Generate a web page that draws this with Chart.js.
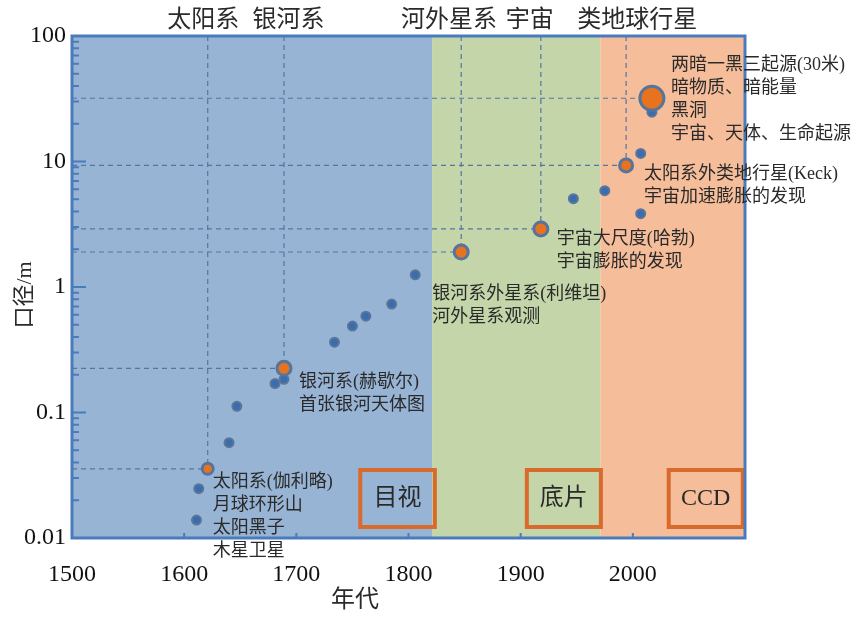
<!DOCTYPE html>
<html lang="zh">
<head>
<meta charset="UTF-8">
<title>望远镜口径与年代</title>
<script src="https://cdn.jsdelivr.net/npm/chart.js@4.4.1/dist/chart.umd.min.js"></script>
<style>
  body { margin: 0; background: #fff; }
</style>
</head>
<body>
<canvas id="myChart" width="864" height="620"></canvas>
<script>
// 普通望远镜 (蓝点)
const blueYears = [1611, 1613, 1640, 1647, 1681, 1689, 1734, 1750, 1762, 1785, 1806, 1947, 1975, 2007, 2007, 2017];
const blueDiam = [0.0139, 0.0247, 0.0575, 0.112, 0.17, 0.184, 0.363, 0.488, 0.586, 0.731, 1.25, 5.06, 5.86, 3.84, 11.6, 24.7];

// 里程碑望远镜 (橙点)
const milestoneYears = [1621, 1689, 1847, 1918, 1994, 2017];
const milestoneDiam = [0.0356, 0.225, 1.9, 2.9, 9.3, 31.9];
const milestoneNotes = [
    ['太阳系(伽利略)', '月球环形山', '太阳黑子', '木星卫星'],
    ['银河系(赫歇尔)', '首张银河天体图'],
    ['银河系外星系(利维坦)', '河外星系观测'],
    ['宇宙大尺度(哈勃)', '宇宙膨胀的发现'],
    ['太阳系外类地行星(Keck)', '宇宙加速膨胀的发现'],
    ['两暗一黑三起源(30米)', '暗物质、暗能量', '黑洞', '宇宙、天体、生命起源']
];

// 观测时代
const eraNames = ['目视', '底片', 'CCD'];
const eraStart = [1500, 1821, 1971];
const eraEnd = [1821, 1971, 2100];

// 顶部标题
const topLabels = ['太阳系', '银河系', '河外星系', '宇宙', '类地球行星'];
const topLabelYears = [1617, 1693, 1836, 1908, 2004];

const xTickValues = [1500, 1600, 1700, 1800, 1900, 2000];
const yTickValues = [0.01, 0.1, 1, 10, 100];
const yTickLabels = ['0.01', '0.1', '1', '10', '100'];

// 样式
const eraColors = ['#98b4d5', '#c3d5a9', '#f5bd9a'];
const frameBlue = '#4a7bbd';
const FONT = '"Liberation Serif", "Noto Sans CJK SC", serif';
const noteOffsets = [[5, 13], [15, 14], [-29, 42], [16, 10], [18, 9], [19, -33]];
const eraBoxYears = [[1757, 1823.5], [1905.5, 1971.5], [2032, 2098]];

const decor = {
    id: 'decor',
    beforeDatasetsDraw(chart) {
        const {ctx, chartArea: a, scales: {x, y}} = chart;
        ctx.save();
        for (let i = 0; i < eraStart.length; i++) {
            const x0 = x.getPixelForValue(eraStart[i]);
            const x1 = x.getPixelForValue(eraEnd[i]);
            ctx.fillStyle = eraColors[i];
            ctx.fillRect(x0, a.top, x1 - x0, a.bottom - a.top);
        }
        ctx.setLineDash([5, 4]);
        ctx.strokeStyle = '#5575a3';
        ctx.lineWidth = 1.2;
        milestoneYears.forEach((yr, i) => {
            const px = x.getPixelForValue(yr);
            const py = y.getPixelForValue(milestoneDiam[i]);
            ctx.beginPath();
            ctx.moveTo(a.left, py);
            ctx.lineTo(px, py);
            if (i < 5) {
                ctx.moveTo(px, a.top);
                ctx.lineTo(px, py);
            }
            ctx.stroke();
        });
        ctx.restore();
    },
    afterDatasetsDraw(chart) {
        const {ctx, chartArea: a, scales: {x, y}} = chart;
        ctx.save();

        // 时代框
        ctx.lineWidth = 4;
        ctx.strokeStyle = '#d86a2b';
        ctx.fillStyle = '#2a2a2a';
        ctx.font = '24px ' + FONT;
        ctx.textAlign = 'center';
        ctx.textBaseline = 'middle';
        eraBoxYears.forEach((b, i) => {
            const x0 = x.getPixelForValue(b[0]);
            const x1 = x.getPixelForValue(b[1]);
            const y0 = a.bottom - 68, y1 = a.bottom - 11;
            ctx.strokeRect(x0, y0, x1 - x0, y1 - y0);
            ctx.fillText(eraNames[i], (x0 + x1) / 2, (y0 + y1) / 2);
        });

        // 边框
        ctx.strokeStyle = frameBlue;
        ctx.lineWidth = 3;
        ctx.strokeRect(a.left, a.top, a.right - a.left, a.bottom - a.top);

        // y 轴刻度 (内侧)
        ctx.lineWidth = 2;
        ctx.beginPath();
        for (let e = -2; e < 2; e++) {
            for (let m = 1; m <= 10; m++) {
                const py = y.getPixelForValue(m * Math.pow(10, e));
                const len = (m === 1 || m === 10) ? 14 : 7;
                ctx.moveTo(a.left, py);
                ctx.lineTo(a.left + len, py);
            }
        }
        // x 轴刻度
        xTickValues.forEach(v => {
            const px = x.getPixelForValue(v);
            ctx.moveTo(px, a.bottom);
            ctx.lineTo(px, a.bottom - 5);
        });
        ctx.stroke();

        // 注释
        ctx.fillStyle = '#2a2a2a';
        ctx.font = '18px ' + FONT;
        ctx.textAlign = 'left';
        ctx.textBaseline = 'middle';
        milestoneNotes.forEach((lines, i) => {
            const px = x.getPixelForValue(milestoneYears[i]) + noteOffsets[i][0];
            const py = y.getPixelForValue(milestoneDiam[i]) + noteOffsets[i][1];
            lines.forEach((t, k) => ctx.fillText(t, px, py + k * 23));
        });

        // 顶部标题
        ctx.font = '24px ' + FONT;
        ctx.textAlign = 'center';
        topLabels.forEach((t, i) => ctx.fillText(t, x.getPixelForValue(topLabelYears[i]), 21));

        // 轴标题
        ctx.fillText('年代', 355, 601);
        ctx.translate(25, 295);
        ctx.rotate(-Math.PI / 2);
        ctx.font = '22px ' + FONT;
        ctx.fillText('口径/m', 0, 0);
        ctx.restore();
    }
};

const ctx = document.getElementById('myChart').getContext('2d');
const myChart = new Chart(ctx, {
    type: 'scatter',
    data: {
        datasets: [
            {
                label: '里程碑',
                data: milestoneYears.map((yr, i) => ({x: yr, y: milestoneDiam[i]})),
                backgroundColor: '#e8731f',
                borderColor: '#56749c',
                borderWidth: 3,
                pointRadius: [5.5, 7, 7, 7, 6.5, 12]
            },
            {
                label: '望远镜',
                data: blueYears.map((yr, i) => ({x: yr, y: blueDiam[i]})),
                backgroundColor: '#3a6caf',
                borderColor: '#5a7698',
                borderWidth: 2,
                pointRadius: 4.5
            }
        ]
    },
    options: {
        responsive: false,
        animation: false,
        layout: {padding: {top: 36, right: 119, bottom: 0, left: 0}},
        plugins: {legend: {display: false}, tooltip: {enabled: false}},
        scales: {
            x: {
                type: 'linear',
                min: 1500,
                max: 2100,
                grid: {display: false, drawTicks: false},
                border: {display: false},
                afterFit(s) { s.height = 82; },
                afterBuildTicks(s) { s.ticks = xTickValues.map(v => ({value: v})); },
                ticks: {
                    color: '#111',
                    font: {family: FONT, size: 24},
                    padding: 22,
                    maxRotation: 0,
                    callback: v => String(v)
                }
            },
            y: {
                type: 'logarithmic',
                min: 0.01,
                max: 100,
                grid: {display: false, drawTicks: false},
                border: {display: false},
                afterFit(s) { s.width = 72; },
                afterBuildTicks(s) { s.ticks = yTickValues.map(v => ({value: v})); },
                ticks: {
                    color: '#111',
                    font: {family: FONT, size: 24},
                    padding: 6,
                    callback: v => yTickLabels[yTickValues.indexOf(v)]
                }
            }
        }
    },
    plugins: [decor]
});
</script>
</body>
</html>
